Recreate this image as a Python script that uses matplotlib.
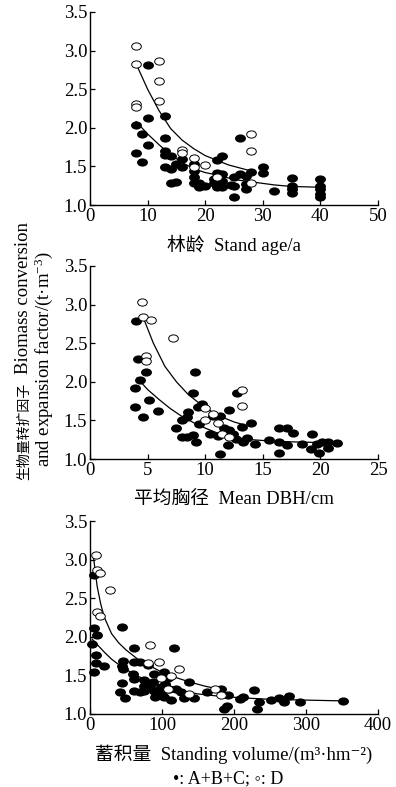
import matplotlib
matplotlib.use('Agg')
import matplotlib.pyplot as plt
from matplotlib.path import Path
from matplotlib.transforms import Affine2D
from matplotlib.ticker import FormatStrFormatter, MultipleLocator

W, H = 396, 787
FAM = ['Liberation Serif', 'Noto Sans CJK SC', 'DejaVu Serif']
plt.rcParams['font.family'] = FAM
plt.rcParams['mathtext.fontset'] = 'custom'
plt.rcParams['mathtext.rm'] = 'Liberation Serif'
plt.rcParams['mathtext.it'] = 'Liberation Serif:italic'

# ---- panel 1: stand age ----
age_abc_x = [10, 10, 13, 8, 9, 13, 10, 8, 9, 13, 13, 14, 13, 14, 15, 16, 16, 14, 15,
             18, 18, 18, 18, 19, 19, 20, 22, 23, 22, 23, 22, 23, 22, 23, 25, 25, 25,
             26, 26, 27, 27, 27, 28, 30, 30, 32, 35, 35, 35, 35, 40, 40, 40, 40, 40,
             21.5, 21.5, 24.5]
age_abc_y = [2.81, 2.13, 2.15, 2.04, 1.92, 1.87, 1.78, 1.68, 1.56, 1.70, 1.65, 1.64,
             1.49, 1.46, 1.53, 1.49, 1.60, 1.29, 1.30, 1.36, 1.44, 1.53, 1.29, 1.28,
             1.23, 1.25, 1.58, 1.64, 1.41, 1.40, 1.34, 1.31, 1.23, 1.23, 1.10, 1.36,
             1.25, 1.87, 1.40, 1.37, 1.27, 1.21, 1.43, 1.49, 1.42, 1.18, 1.35, 1.25,
             1.21, 1.16, 1.34, 1.25, 1.21, 1.14, 1.10, 1.34, 1.28, 1.26]
age_d_x = [8, 8, 8, 8, 12, 12, 12, 16, 16, 18, 18, 20, 22, 28, 28, 28]
age_d_y = [3.06, 2.83, 2.31, 2.27, 2.87, 2.60, 2.35, 1.71, 1.68, 1.61, 1.49, 1.52,
           1.36, 1.92, 1.70, 1.29]
age_up_x = [8, 10, 12, 14, 16, 18, 20, 22, 24, 26, 28]
age_up_y = [2.83, 2.50, 2.22, 1.99, 1.84, 1.73, 1.64, 1.58, 1.52, 1.48, 1.44]
age_lo_x = [8, 10, 12, 14, 16, 18, 20, 22, 24, 26, 28, 30, 32, 35, 40]
age_lo_y = [2.08, 1.92, 1.78, 1.65, 1.55, 1.47, 1.42, 1.39, 1.35, 1.32, 1.30,
            1.28, 1.26, 1.24, 1.23]

# ---- panel 2: mean DBH ----
dbh_abc_x = [4.0, 4.2, 4.9, 4.3, 3.9, 5.1, 3.9, 4.6, 5.9, 9.1, 8.9, 9.4, 8.5, 8.4,
             8.0, 7.5, 8.0, 8.4, 8.9, 9.2, 9.5, 9.7, 12.8, 10.7, 11.3, 10.4, 11.1,
             11.6, 12.1, 12.1, 12.4, 12.0, 11.3, 12.7, 13.2, 13.3, 13.6, 14.0, 14.3,
             15.5, 16.4, 17.1, 17.6, 16.4, 16.4, 17.1, 18.4, 19.3, 19.7, 19.2, 19.9,
             20.1, 20.7, 20.7, 21.4]
dbh_abc_y = [2.79, 2.30, 2.13, 2.02, 1.92, 1.77, 1.67, 1.55, 1.62, 2.13, 1.86, 1.68,
             1.61, 1.55, 1.51, 1.40, 1.29, 1.28, 1.31, 1.22, 1.45, 1.71, 1.86, 1.56,
             1.56, 1.32, 1.30, 1.40, 1.63, 1.37, 1.32, 1.18, 1.07, 1.26, 1.41, 1.22,
             1.27, 1.46, 1.20, 1.24, 1.40, 1.40, 1.34, 1.22, 1.08, 1.18, 1.19, 1.33,
             1.19, 1.13, 1.08, 1.22, 1.22, 1.14, 1.21]
dbh_d_x = [4.5, 4.6, 5.3, 7.2, 4.9, 4.9, 10.0, 10.0, 10.7, 11.1, 11.5, 12.1, 13.2, 13.2]
dbh_d_y = [3.03, 2.84, 2.80, 2.57, 2.33, 2.27, 1.66, 1.51, 1.58, 1.47, 1.33, 1.28,
           1.90, 1.69]
dbh_up_x = [4.6, 5.5, 6.5, 7.5, 8.5, 9.5, 10.5, 11.5, 12.5, 13.2]
dbh_up_y = [2.84, 2.50, 2.20, 2.00, 1.84, 1.72, 1.62, 1.54, 1.48, 1.45]
dbh_lo_x = [4.1, 5, 6, 7, 8, 9, 10, 11, 12, 13, 14, 16, 18, 21]
dbh_lo_y = [2.05, 1.90, 1.77, 1.65, 1.55, 1.47, 1.40, 1.34, 1.30, 1.27, 1.25,
            1.23, 1.22, 1.21]

# ---- panel 3: standing volume ----
vol_abc_x = [5, 6, 3, 10, 8, 8, 5, 20, 45, 61, 44, 46, 46, 61, 70, 80, 60, 61, 44,
             42, 48, 61, 70, 75, 75, 87, 89, 89, 90, 98, 103, 108, 104, 103, 112,
             117, 119, 126, 130, 138, 145, 163, 182, 186, 190, 191, 209, 212, 228,
             232, 235, 252, 263, 270, 277, 291, 351, 75, 83, 95, 110, 100]
vol_abc_y = [2.80, 2.12, 1.91, 2.02, 1.76, 1.66, 1.55, 1.62, 2.13, 1.86, 1.62, 1.58,
             1.69, 1.68, 1.68, 1.63, 1.52, 1.45, 1.40, 1.28, 1.21, 1.30, 1.28, 1.44,
             1.36, 1.41, 1.52, 1.30, 1.22, 1.35, 1.55, 1.47, 1.39, 1.22, 1.18, 1.86,
             1.32, 1.29, 1.21, 1.41, 1.21, 1.28, 1.32, 1.07, 1.10, 1.24, 1.19, 1.22,
             1.31, 1.07, 1.16, 1.18, 1.21, 1.15, 1.23, 1.16, 1.17, 1.30, 1.36, 1.28,
             1.32, 1.25]
vol_d_x = [8, 10, 14, 28, 10, 14, 84, 96, 80, 124, 98, 112, 108, 138, 173, 182]
vol_d_y = [3.06, 2.87, 2.82, 2.60, 2.32, 2.27, 1.90, 1.68, 1.66, 1.58, 1.46, 1.49,
           1.32, 1.26, 1.32, 1.25]
vol_up_x = [5, 10, 15, 20, 30, 40, 50, 65, 80, 100, 120, 140, 160, 185]
vol_up_y = [3.02, 2.65, 2.42, 2.25, 2.04, 1.92, 1.83, 1.72, 1.64, 1.54, 1.47,
            1.41, 1.36, 1.31]
vol_lo_x = [3, 10, 20, 30, 40, 60, 80, 100, 125, 150, 180, 210, 250, 300, 350]
vol_lo_y = [1.97, 1.90, 1.80, 1.71, 1.64, 1.52, 1.43, 1.36, 1.30, 1.26, 1.23,
            1.21, 1.19, 1.18, 1.17]

x_titles = ['林龄  Stand age/a', '平均胸径  Mean DBH/cm',
            '蓄积量  Standing volume/(m³·hm⁻²)']
x_max = [50, 25, 400]
x_step = [10, 5, 100]


def fx(p):
    return p / W


def fy(p):
    return 1 - p / H


ellipse = Path.unit_circle().transformed(Affine2D().scale(1.0, 0.75))

fig = plt.figure(figsize=(W / 100, H / 100), dpi=100)

panels = [
    (age_abc_x, age_abc_y, age_d_x, age_d_y, age_up_x, age_up_y, age_lo_x, age_lo_y),
    (dbh_abc_x, dbh_abc_y, dbh_d_x, dbh_d_y, dbh_up_x, dbh_up_y, dbh_lo_x, dbh_lo_y),
    (vol_abc_x, vol_abc_y, vol_d_x, vol_d_y, vol_up_x, vol_up_y, vol_lo_x, vol_lo_y),
]
bottoms = [205, 459, 714]
ax_h = 193

for i, (ax_, ay_, dx_, dy_, ux, uy, lx, ly) in enumerate(panels):
    b = bottoms[i]
    ax = fig.add_axes([fx(90), fy(b), 288 / W, ax_h / H])
    ax.plot(lx, ly, color='k', lw=0.9, zorder=2)
    ax.plot(ux, uy, color='k', lw=0.9, zorder=2)
    ax.scatter(ax_, ay_, marker=ellipse, s=62, c='k', lw=0, zorder=3, clip_on=False)
    ax.scatter(dx_, dy_, marker=ellipse, s=48, facecolors='white',
               edgecolors='k', linewidths=0.7, zorder=4, clip_on=False)
    ax.set_xlim(0, x_max[i])
    ax.set_ylim(1.0, 3.5)
    ax.xaxis.set_major_locator(MultipleLocator(x_step[i]))
    ax.yaxis.set_major_locator(MultipleLocator(0.5))
    ax.yaxis.set_major_formatter(FormatStrFormatter('%.1f'))
    for s in ('top', 'right'):
        ax.spines[s].set_visible(False)
    for s in ('left', 'bottom'):
        ax.spines[s].set_linewidth(1.0)
    ax.tick_params(direction='in', length=3.5, width=0.9, labelsize=13.5, pad=2)
    fig.text(fx(234), fy(b + 46), x_titles[i], ha='center', va='baseline',
             fontsize=13.5)

# y label, two rotated lines
fig.text(fx(28), fy(480), '生物量转扩因子', rotation=90, rotation_mode='anchor',
         ha='left', va='baseline', fontsize=10, family='Noto Sans CJK SC')
fig.text(fx(28), fy(374), 'Biomass conversion', rotation=90, rotation_mode='anchor',
         ha='left', va='baseline', fontsize=13.5)
fig.text(fx(49), fy(467), 'and expansion factor/(t·m$^{-3}$)', rotation=90,
         rotation_mode='anchor', ha='left', va='baseline', fontsize=13.5)

fig.text(fx(228), fy(783), '•: A+B+C; ◦: D', ha='center', va='baseline',
         fontsize=13, family=['Liberation Serif', 'DejaVu Serif'])

fig.savefig('out.png', dpi=100)
